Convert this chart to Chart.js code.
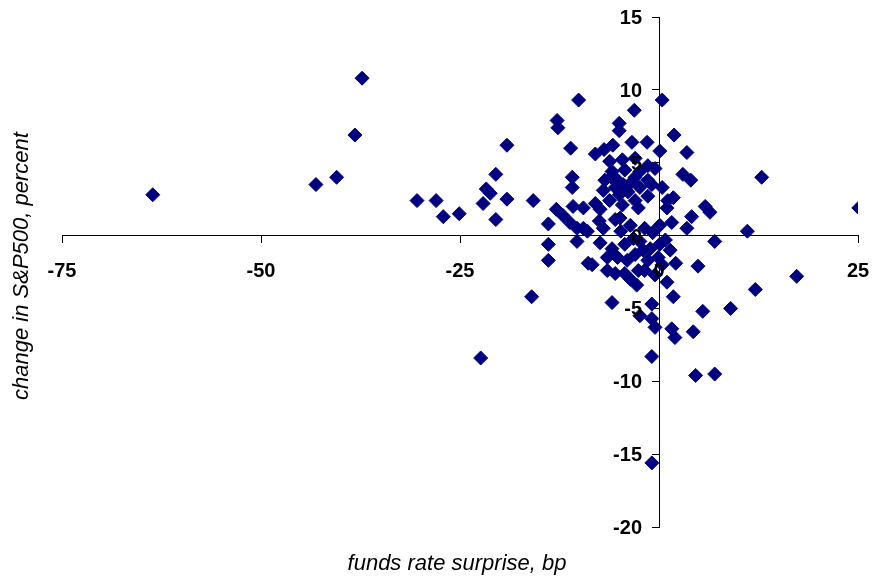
<!DOCTYPE html>
<html>
<head>
<meta charset="utf-8">
<title>Funds rate surprise vs S&amp;P500</title>
<script src="https://cdn.jsdelivr.net/npm/chart.js@4"></script>
<style>
  html, body { margin: 0; padding: 0; background: #fff; }
  #wrap { width: 873px; height: 577px; }
</style>
</head>
<body>
<div id="wrap"><canvas id="chart" width="873" height="577"></canvas></div>
<script>
// Funds rate surprise (bp) and same-day change in the S&P500 (percent)
const surpriseBp = [
  -63.6, -43.1, -40.5, -37.3, -38.2, -30.4, -28.0, -27.1, -25.1, -20.5,
  -21.7, -21.2, -22.1, -19.1, -20.5, -15.8, -19.1, -22.4,
  -16.0, -13.9, -13.9, -13.9, -12.8, -12.7, -11.1, -10.9, -10.9, -12.9,
  -12.1, -11.2, -10.3, -10.8, -9.5, -10.3, -8.9, -10.1, -8.0, -9.0,
  -3.1, -5.0, -5.0, 0.4, 1.9, 0.1, -1.5, -3.4, -8.0, -6.9, -5.8,
  3.5, 3.0, 4.0, 12.9, 25.1, 5.8, 6.4, 4.1, 3.5, 11.1, 7.0, 1.8,
  2.1, 4.9, 1.0, 1.8, -0.9, 5.5, 9.0, 12.1, 17.3, -0.9, -0.5, 1.6, 2.0,
  4.3, -0.9, 4.6, 7.0, -0.9,
  -5.9, -2.4, -8.4, -6.5, -5.5, -4.3, -3.6, -2.8,
  -6.2, -4.6, -3.0, -1.4, -5.9, -4.3, -2.4, -0.5, -5.2, -3.4, -1.4, -6.8,
  -7.0, -5.5, -3.9, -2.4, -0.9, 0.4, -6.2, -4.6, -3.0, -1.4, -7.4, -4.9,
  -2.6, 1.0, 1.6, -9.5, -7.0, -5.5, -3.6, -1.8, 0.1, 0.8, -7.4, -5.9,
  -4.3, -2.4, -1.1, 0.1, 1.4, -5.2, -3.0, -1.4, -0.1, -4.0, -1.8, -0.5,
  -2.6, 0.4, 1.1,
  -6.0, -3.0, -4.5, -5.0, -7.5, -3.2, -6.5, -2.0, -0.8, -4.8
];
const spChangePct = [
  2.8, 3.5, 4.0, 10.8, 6.9, 2.4, 2.4, 1.3, 1.5, 4.2,
  3.2, 2.9, 2.2, 2.5, 1.1, 2.4, 6.2, -8.4,
  -4.2, -1.7, -0.6, 0.8, 7.9, 7.4, 6.0, 4.0, 3.3, 1.8,
  1.4, 0.9, 0.5, 2.0, 1.9, -0.4, -1.9, 9.3, 2.2, 0.3,
  8.6, 7.7, 7.2, 9.3, 6.9, 5.8, 6.4, 6.4, 5.6, 5.9, 6.2,
  5.7, 4.2, 3.8, 4.0, 1.9, 2.0, 1.6, 1.3, 0.5, 0.3, -0.4, 2.6,
  -1.9, -2.1, -3.2, -4.2, -4.7, -5.2, -5.0, -3.7, -2.8, -5.7, -6.3, -6.4, -7.0,
  -6.6, -8.3, -9.6, -9.5, -15.6,
  -4.6, -5.5, -2.0, -2.4, -2.6, -2.6, -3.0, -3.4,
  5.1, 5.2, 5.3, 4.8, 4.4, 4.5, 4.4, 4.6, 3.8, 3.7, 3.8, 3.8,
  3.1, 3.3, 3.0, 3.3, 3.5, 3.3, 2.4, 2.1, 2.4, 2.7, 1.8, 1.2,
  1.9, 1.9, 0.9, 0.5, 0.5, 1.1, 0.7, 0.5, 0.7, -0.3, -0.5, -0.9,
  -0.6, -0.4, -0.9, -0.6, -1.0, -1.5, -1.3, -1.7, -1.5, -1.7, -2.4, -2.7,
  -2.4, -2.0, 2.4,
  4.0, 4.0, 3.5, 2.8, 1.0, -0.2, -1.5, -1.0, 0.2, 0.3
];
const xTickValues = [-75, -50, -25, 0, 25];
const yTickValues = [-20, -15, -10, -5, 0, 5, 10, 15];

const xTitle = 'funds rate surprise, bp';
const yTitle = 'change in S&P500, percent';

const points = surpriseBp.map((x, i) => ({ x: x, y: spChangePct[i] }));

const tickFont = 'bold 20px "Liberation Sans", Arial, sans-serif';
const titleFont = 'italic 22px "Liberation Sans", Arial, sans-serif';

// Tick labels beside the crossing axes, drawn above the markers,
// plus the two axis titles at the canvas edges
const axisText = {
  id: 'axisText',
  afterDraw(chart) {
    const ctx = chart.ctx;
    const xs = chart.scales.x;
    const ys = chart.scales.y;
    const xAxisPx = ys.getPixelForValue(0);
    const yAxisPx = xs.getPixelForValue(0);
    ctx.save();
    ctx.fillStyle = '#000';
    ctx.font = tickFont;
    ctx.textBaseline = 'alphabetic';

    ctx.textAlign = 'center';
    xTickValues.forEach(v => {
      ctx.fillText(String(v), xs.getPixelForValue(v), xAxisPx + 41);
    });

    ctx.textAlign = 'right';
    yTickValues.forEach(v => {
      ctx.fillText(String(v), yAxisPx - 17, ys.getPixelForValue(v) + 7);
    });

    ctx.font = titleFont;
    ctx.textAlign = 'center';
    ctx.textBaseline = 'middle';
    ctx.fillText(xTitle, 457, 564);
    ctx.translate(22, 266);
    ctx.rotate(-Math.PI / 2);
    ctx.fillText(yTitle, 0, 0);
    ctx.restore();
  }
};

function axisCommon(tickValues) {
  return {
    type: 'linear',
    z: 1,
    min: tickValues[0],
    max: tickValues[tickValues.length - 1],
    afterBuildTicks(scale) { scale.ticks = tickValues.map(v => ({ value: v })); },
    grid: { display: true, drawOnChartArea: false, drawTicks: true, tickLength: 7, color: '#000', lineWidth: 1 },
    border: { display: true, color: '#000', width: 1 },
    ticks: { display: false, padding: 0 },
    title: { display: false }
  };
}

new Chart(document.getElementById('chart'), {
  type: 'scatter',
  data: {
    datasets: [{
      data: points,
      pointStyle: 'rectRot',
      pointRadius: 7,
      pointHoverRadius: 7,
      backgroundColor: '#000080',
      borderColor: '#000080',
      borderWidth: 1
    }]
  },
  options: {
    responsive: false,
    animation: false,
    devicePixelRatio: 1,
    layout: { padding: { left: 62, right: 15, top: 17, bottom: 50 } },
    plugins: { legend: { display: false }, tooltip: { enabled: false } },
    scales: {
      x: Object.assign(axisCommon(xTickValues), { position: { y: 0 } }),
      y: Object.assign(axisCommon(yTickValues), { position: { x: 0 } })
    }
  },
  plugins: [axisText]
});
</script>
</body>
</html>
